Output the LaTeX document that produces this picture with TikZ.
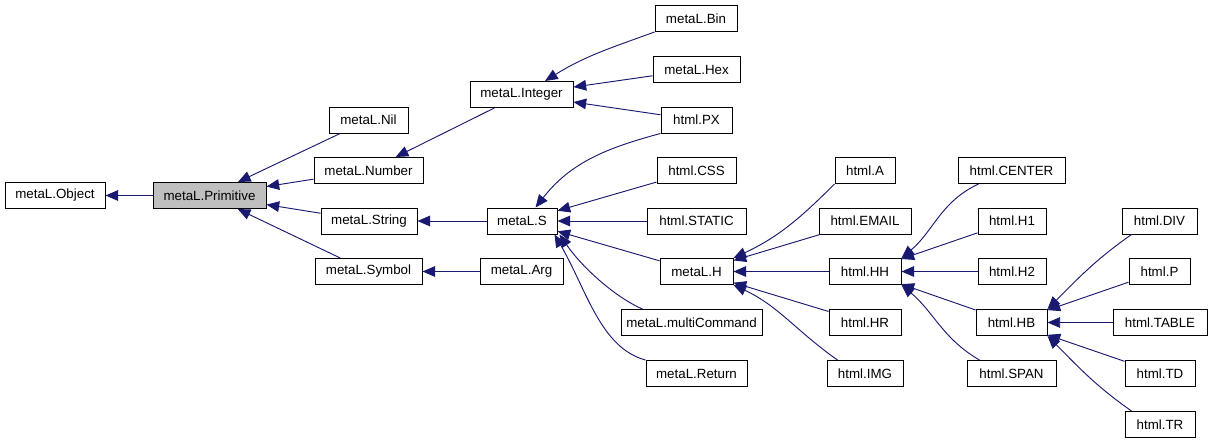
\documentclass[tikz,border=0pt]{standalone}
\usepackage{fontspec}
\setmainfont{Liberation Sans}
\usepackage{tikz}
\usetikzlibrary{arrows.meta, calc}
\definecolor{dxblue}{RGB}{25,25,112}
\definecolor{dxgray}{RGB}{191,191,191}

\begin{document}
\begin{tikzpicture}[
  x=0.75pt, y=0.75pt,
  every node/.style={font=\fontsize{10}{12}\selectfont},
  cls/.style={rectangle, draw=black, fill=white, line width=0.75pt,
              minimum height=19.5pt, inner sep=0pt, align=center},
  bw/.style={minimum width=#1*0.75pt},
  cur/.style={cls, fill=dxgray},
  inh/.style={-{Triangle[length=9.5pt, width=8pt]}, color=dxblue,
              line width=0.7pt},
]
\useasboundingbox (0,0) rectangle (1212,-443);

% Root and direct children
\node[cls, bw=100] (object)    at (55,   -195.5) {metaL.Object};
\node[cur, bw=113] (primitive) at (209.5,-195.5) {metaL.Primitive};
\node[cls, bw=79]  (nil)       at (368.5,-120)   {metaL.Nil};
\node[cls, bw=109] (number)    at (368.5,-170.5) {metaL.Number};
\node[cls, bw=96]  (string)    at (369,  -221)   {metaL.String};
\node[cls, bw=107] (symbol)    at (368.5,-271.5) {metaL.Symbol};

% Third column
\node[cls, bw=103] (integer) at (521.5,-94.5)  {metaL.Integer};
\node[cls, bw=70]  (mS)      at (522,  -221)   {metaL.S};
\node[cls, bw=83]  (arg)     at (521.5,-271.5) {metaL.Arg};

% Fourth column
\node[cls, bw=82]  (bin)    at (696,  -18.5)  {metaL.Bin};
\node[cls, bw=87]  (hex)    at (696.5,-69.5)  {metaL.Hex};
\node[cls, bw=71]  (px)     at (696.5,-120)   {html.PX};
\node[cls, bw=79]  (css)    at (696.5,-170.5) {html.CSS};
\node[cls, bw=99]  (static) at (696.5,-221)   {html.STATIC};
\node[cls, bw=73]  (mH)     at (696.5,-271.5) {metaL.H};
\node[cls, bw=141] (multi)  at (691.5,-322.5) {metaL.multiCommand};
\node[cls, bw=101] (ret)    at (696.5,-373.5) {metaL.Return};

% Fifth column
\node[cls, bw=60] (hA)    at (865,-170.5) {html.A};
\node[cls, bw=92] (email) at (865,-221)   {html.EMAIL};
\node[cls, bw=72] (hh)    at (865,-271.5) {html.HH};
\node[cls, bw=72] (hr)    at (865,-322.5) {html.HR};
\node[cls, bw=76] (img)   at (865,-373.5) {html.IMG};

% Sixth column
\node[cls, bw=107] (center) at (1011.5,-170.5) {html.CENTER};
\node[cls, bw=68]  (h1)     at (1012,  -221)   {html.H1};
\node[cls, bw=68]  (h2)     at (1012,  -271.5) {html.H2};
\node[cls, bw=71]  (hb)     at (1011.5,-322.5) {html.HB};
\node[cls, bw=89]  (span)   at (1011.5,-373.5) {html.SPAN};

% Last column
\node[cls, bw=75] (div)   at (1159.5,-221)   {html.DIV};
\node[cls, bw=61] (hp)    at (1159.5,-271.5) {html.P};
\node[cls, bw=94] (table) at (1160,  -322.5) {html.TABLE};
\node[cls, bw=70] (td)    at (1160,  -373.5) {html.TD};
\node[cls, bw=70] (tr)    at (1160,  -424.5) {html.TR};

% ── metaL.Primitive and its children ──
\draw[inh] (primitive) -- (object);
\draw[inh] (nil)    -- (primitive);
\draw[inh] (number) -- (primitive);
\draw[inh] (string) -- (primitive);
\draw[inh] (symbol) -- (primitive);
\draw[inh] (integer) -- (number);
\draw[inh] (mS)  -- (string);
\draw[inh] (arg) -- (symbol);

% ── metaL.Integer ──
\draw[inh] (bin.south west) to[out=200, in=32] ($(integer.north)+(23.5,0)$);
\draw[inh] (hex) -- (integer);
\draw[inh] (px)  -- (integer);

% ── metaL.S ──
\draw[inh] (px.south west) to[out=195, in=52] (mS.45);
\draw[inh] (css)    -- (mS);
\draw[inh] (static) -- (mS);
\draw[inh] (mH)     -- (mS);
\draw[inh] ($(multi.north west)+(22,0)$)
  .. controls +(-28,12) and +(22,-32) .. ($(mS.south east)+(2,0)$);
\draw[inh] (ret.north west)
  .. controls +(-45,12) and +(32,-55) .. ($(mS.south east)+(-3,0)$);

% ── metaL.H ──
\draw[inh] (hA.south west) to[out=225, in=25] (mH.north east);
\draw[inh] (email) -- (mH);
\draw[inh] (hh)    -- (mH);
\draw[inh] (hr)    -- (mH);
\draw[inh] ($(img.north west)+(11,0)$) to[out=145, in=-25] (mH.south east);

% ── html.HH ──
\draw[inh] ($(center.south west)+(21,0)$) to[out=205, in=40] (hh.north east);
\draw[inh] (h1) -- (hh);
\draw[inh] (h2) -- (hh);
\draw[inh] (hb) -- (hh);
\draw[inh] ($(span.north west)+(13,0)$) to[out=150, in=-40] (hh.south east);

% ── html.HB ──
\draw[inh] ($(div.south west)+(10,0)$) to[out=215, in=45] (hb.north east);
\draw[inh] (hp)    -- (hb);
\draw[inh] (table) -- (hb);
\draw[inh] (td)    -- (hb);
\draw[inh] ($(tr.north west)+(7,0)$) to[out=145, in=-45] (hb.south east);

\end{tikzpicture}
\end{document}
